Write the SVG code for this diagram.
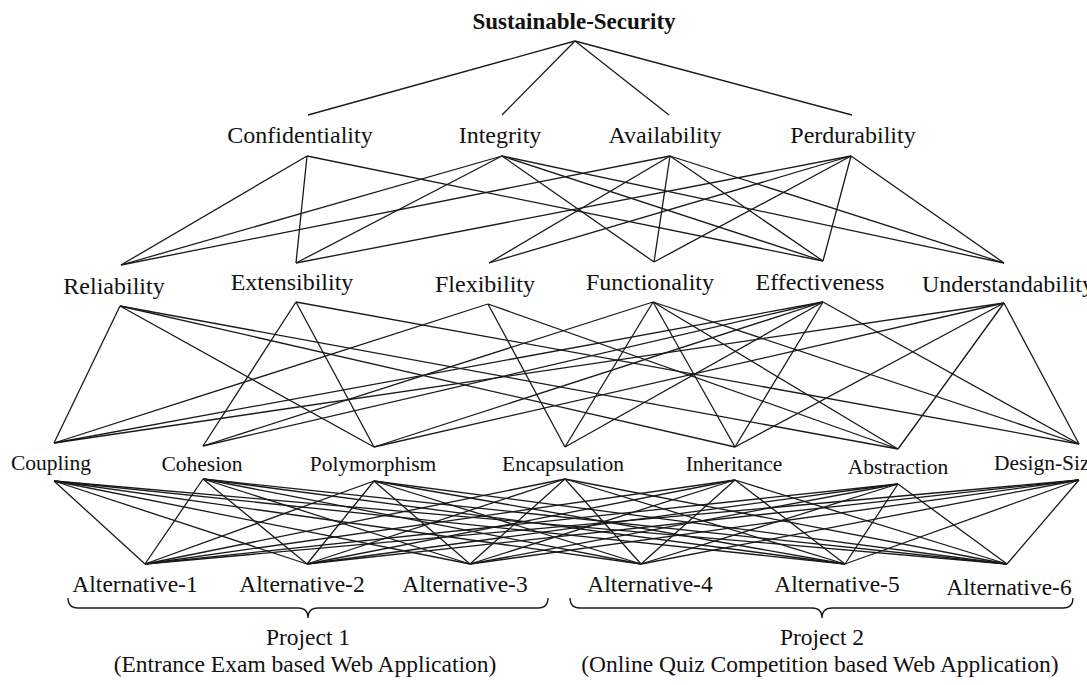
<svg xmlns="http://www.w3.org/2000/svg" width="1087" height="685" viewBox="0 0 1087 685">
<style>
.e{stroke:#1a1a1a;stroke-width:1.3;fill:none}
.br{stroke:#1a1a1a;stroke-width:1.3;fill:none}
text{font-family:"Liberation Serif","Times New Roman",serif;fill:#111}
.t0{font-size:23px;font-weight:bold;text-anchor:middle}
.t1{font-size:24px;text-anchor:middle}
.t2{font-size:24px;text-anchor:middle}
.t3{font-size:21.5px;text-anchor:middle}
.t4{font-size:23.5px;text-anchor:middle}
.t5{font-size:23.5px;text-anchor:middle}
</style>
<rect width="1087" height="685" fill="#fff"/>
<g id="connectors">
<!-- root to level 1 -->
<line class="e" x1="575" y1="41" x2="308" y2="115"/>
<line class="e" x1="575" y1="41" x2="502" y2="115"/>
<line class="e" x1="575" y1="41" x2="669" y2="115"/>
<line class="e" x1="575" y1="41" x2="852" y2="115"/>
<!-- level 1 to level 2 -->
<line class="e" x1="307" y1="156" x2="121" y2="265"/>
<line class="e" x1="307" y1="156" x2="296" y2="263"/>
<line class="e" x1="307" y1="156" x2="823" y2="261"/>
<line class="e" x1="502" y1="156" x2="121" y2="265"/>
<line class="e" x1="502" y1="156" x2="296" y2="263"/>
<line class="e" x1="502" y1="156" x2="654" y2="262"/>
<line class="e" x1="502" y1="156" x2="823" y2="261"/>
<line class="e" x1="502" y1="156" x2="1004" y2="263"/>
<line class="e" x1="670" y1="156" x2="121" y2="265"/>
<line class="e" x1="670" y1="156" x2="489" y2="263"/>
<line class="e" x1="670" y1="156" x2="654" y2="262"/>
<line class="e" x1="670" y1="156" x2="823" y2="261"/>
<line class="e" x1="670" y1="156" x2="1004" y2="263"/>
<line class="e" x1="851" y1="156" x2="296" y2="263"/>
<line class="e" x1="851" y1="156" x2="489" y2="263"/>
<line class="e" x1="851" y1="156" x2="654" y2="262"/>
<line class="e" x1="851" y1="156" x2="823" y2="261"/>
<line class="e" x1="851" y1="156" x2="1004" y2="263"/>
<!-- level 2 to level 3 -->
<line class="e" x1="120" y1="306" x2="54" y2="443"/>
<line class="e" x1="120" y1="306" x2="374" y2="447"/>
<line class="e" x1="120" y1="306" x2="735" y2="447"/>
<line class="e" x1="120" y1="306" x2="898" y2="449"/>
<line class="e" x1="296" y1="302" x2="203" y2="446"/>
<line class="e" x1="296" y1="302" x2="374" y2="447"/>
<line class="e" x1="296" y1="302" x2="1079" y2="444"/>
<line class="e" x1="488" y1="304" x2="54" y2="443"/>
<line class="e" x1="488" y1="304" x2="565" y2="447"/>
<line class="e" x1="488" y1="304" x2="898" y2="449"/>
<line class="e" x1="653" y1="302" x2="203" y2="446"/>
<line class="e" x1="653" y1="302" x2="565" y2="447"/>
<line class="e" x1="653" y1="302" x2="735" y2="447"/>
<line class="e" x1="653" y1="302" x2="898" y2="449"/>
<line class="e" x1="653" y1="302" x2="1079" y2="444"/>
<line class="e" x1="823" y1="302" x2="54" y2="443"/>
<line class="e" x1="823" y1="302" x2="203" y2="446"/>
<line class="e" x1="823" y1="302" x2="374" y2="447"/>
<line class="e" x1="823" y1="302" x2="565" y2="447"/>
<line class="e" x1="823" y1="302" x2="735" y2="447"/>
<line class="e" x1="823" y1="302" x2="1079" y2="444"/>
<line class="e" x1="1004" y1="303" x2="54" y2="443"/>
<line class="e" x1="1004" y1="303" x2="374" y2="447"/>
<line class="e" x1="1004" y1="303" x2="735" y2="447"/>
<line class="e" x1="1004" y1="303" x2="898" y2="449"/>
<line class="e" x1="1004" y1="303" x2="1079" y2="444"/>
<!-- level 3 to alternatives -->
<line class="e" x1="54" y1="481" x2="145" y2="564"/>
<line class="e" x1="54" y1="481" x2="307" y2="564"/>
<line class="e" x1="54" y1="481" x2="470" y2="564"/>
<line class="e" x1="54" y1="481" x2="641" y2="564"/>
<line class="e" x1="54" y1="481" x2="845" y2="564"/>
<line class="e" x1="54" y1="481" x2="1007" y2="564"/>
<line class="e" x1="203" y1="479" x2="145" y2="564"/>
<line class="e" x1="203" y1="479" x2="307" y2="564"/>
<line class="e" x1="203" y1="479" x2="470" y2="564"/>
<line class="e" x1="203" y1="479" x2="641" y2="564"/>
<line class="e" x1="203" y1="479" x2="845" y2="564"/>
<line class="e" x1="203" y1="479" x2="1007" y2="564"/>
<line class="e" x1="374" y1="481" x2="145" y2="564"/>
<line class="e" x1="374" y1="481" x2="307" y2="564"/>
<line class="e" x1="374" y1="481" x2="470" y2="564"/>
<line class="e" x1="374" y1="481" x2="641" y2="564"/>
<line class="e" x1="374" y1="481" x2="845" y2="564"/>
<line class="e" x1="374" y1="481" x2="1007" y2="564"/>
<line class="e" x1="565" y1="479" x2="145" y2="564"/>
<line class="e" x1="565" y1="479" x2="307" y2="564"/>
<line class="e" x1="565" y1="479" x2="470" y2="564"/>
<line class="e" x1="565" y1="479" x2="641" y2="564"/>
<line class="e" x1="565" y1="479" x2="845" y2="564"/>
<line class="e" x1="565" y1="479" x2="1007" y2="564"/>
<line class="e" x1="735" y1="480" x2="145" y2="564"/>
<line class="e" x1="735" y1="480" x2="307" y2="564"/>
<line class="e" x1="735" y1="480" x2="470" y2="564"/>
<line class="e" x1="735" y1="480" x2="641" y2="564"/>
<line class="e" x1="735" y1="480" x2="845" y2="564"/>
<line class="e" x1="735" y1="480" x2="1007" y2="564"/>
<line class="e" x1="898" y1="484" x2="145" y2="564"/>
<line class="e" x1="898" y1="484" x2="307" y2="564"/>
<line class="e" x1="898" y1="484" x2="470" y2="564"/>
<line class="e" x1="898" y1="484" x2="641" y2="564"/>
<line class="e" x1="898" y1="484" x2="845" y2="564"/>
<line class="e" x1="898" y1="484" x2="1007" y2="564"/>
<line class="e" x1="1079" y1="480" x2="145" y2="564"/>
<line class="e" x1="1079" y1="480" x2="307" y2="564"/>
<line class="e" x1="1079" y1="480" x2="470" y2="564"/>
<line class="e" x1="1079" y1="480" x2="641" y2="564"/>
<line class="e" x1="1079" y1="480" x2="845" y2="564"/>
<line class="e" x1="1079" y1="480" x2="1007" y2="564"/>
</g>
<g id="root"><text class="t0" x="574" y="29">Sustainable-Security</text></g>
<g id="confidentiality"><text class="t1" x="300" y="143">Confidentiality</text></g>
<g id="integrity"><text class="t1" x="500" y="143">Integrity</text></g>
<g id="availability"><text class="t1" x="665" y="143">Availability</text></g>
<g id="perdurability"><text class="t1" x="853" y="143">Perdurability</text></g>
<g id="reliability"><text class="t2" x="114" y="294">Reliability</text></g>
<g id="extensibility"><text class="t2" x="292" y="290">Extensibility</text></g>
<g id="flexibility"><text class="t2" x="485" y="292">Flexibility</text></g>
<g id="functionality"><text class="t2" x="650" y="290">Functionality</text></g>
<g id="effectiveness"><text class="t2" x="820" y="290">Effectiveness</text></g>
<g id="understandability"><text class="t2" x="922" y="292" style="text-anchor:start">Understandability</text></g>
<g id="coupling"><text class="t3" x="51" y="470">Coupling</text></g>
<g id="cohesion"><text class="t3" x="202" y="471">Cohesion</text></g>
<g id="polymorphism"><text class="t3" x="373" y="471">Polymorphism</text></g>
<g id="encapsulation"><text class="t3" x="563" y="471">Encapsulation</text></g>
<g id="inheritance"><text class="t3" x="734" y="471">Inheritance</text></g>
<g id="abstraction"><text class="t3" x="898" y="474">Abstraction</text></g>
<g id="design-size"><text class="t3" x="994" y="470" style="text-anchor:start">Design-Size</text></g>
<g id="alt1"><text class="t4" x="135" y="592">Alternative-1</text></g>
<g id="alt2"><text class="t4" x="302" y="592">Alternative-2</text></g>
<g id="alt3"><text class="t4" x="465" y="592">Alternative-3</text></g>
<g id="alt4"><text class="t4" x="650" y="592">Alternative-4</text></g>
<g id="alt5"><text class="t4" x="837" y="592">Alternative-5</text></g>
<g id="alt6"><text class="t4" x="1009" y="595">Alternative-6</text></g>
<g id="project1">
<path class="br" d="M68,598 Q68,608 78,608 L298,608 Q308,608 308,618 Q308,608 318,608 L538,608 Q548,608 548,598"/>
<text class="t5" x="308" y="645">Project 1</text>
<text class="t5" x="305" y="672">(Entrance Exam based Web Application)</text>
</g>
<g id="project2">
<path class="br" d="M570,598 Q570,608 580,608 L812,608 Q822,608 822,618 Q822,608 832,608 L1063,608 Q1073,608 1073,598"/>
<text class="t5" x="822" y="645">Project 2</text>
<text class="t5" x="820" y="672">(Online Quiz Competition based Web Application)</text>
</g>
</svg>
